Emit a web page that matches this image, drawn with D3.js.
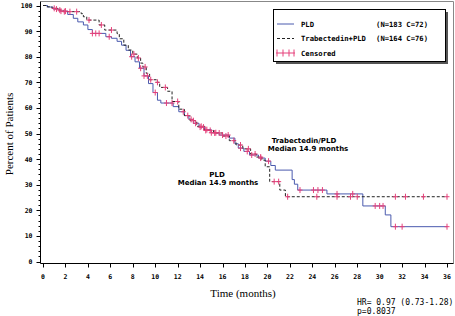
<!DOCTYPE html>
<html>
<head>
<meta charset="utf-8">
<script src="https://cdn.jsdelivr.net/npm/d3@7"></script>
<style>
  body { margin: 0; background: #fff; }
  svg { display: block; }
</style>
</head>
<body>
<div id="chart"></div>
<script>
// Kaplan-Meier curves: [month, percent] after each step
const pldSteps = [
  [0, 100], [0.4, 99.4], [0.9, 98.6], [1.5, 97.8], [2.2, 96.5], [2.7, 95], [3.1, 93.6], [3.6, 92.4],
  [4.0, 90.6], [4.4, 89.1], [5.6, 87.8], [6.1, 87.2], [6.6, 86], [7.0, 84.5], [7.4, 82.5],
  [7.8, 80], [8.2, 78], [8.6, 75.5], [9.0, 72.5], [9.4, 69.5], [9.8, 66], [10.2, 63],
  [10.5, 61.9], [11.6, 60.5], [12.1, 58.5], [12.6, 57], [13.0, 55.5], [13.4, 54], [13.9, 52.5],
  [14.4, 51.5], [15.0, 50.3], [15.7, 49.4], [16.6, 48.2], [17.1, 46], [17.4, 44.3], [17.9, 43],
  [18.4, 41.6], [19.2, 40.4], [19.8, 39.2], [20.3, 37.5], [20.7, 35.7], [22.2, 32], [22.4, 30.2],
  [22.7, 27.9], [25.3, 26.4], [28.5, 21.7], [30.5, 18.2], [31.0, 13.6], [36, 13.6]
];
const trabSteps = [
  [0, 100], [0.3, 99.5], [0.8, 98.9], [1.3, 98.2], [1.8, 97.6], [3.4, 96.8], [3.6, 95.6],
  [3.9, 94.3], [5.0, 92.4], [5.5, 90.4], [6.6, 89], [6.8, 87], [7.2, 84.5], [7.6, 82.6],
  [8.0, 81], [8.4, 79.5], [8.7, 77.5], [8.9, 76], [9.2, 73.5], [9.5, 71], [10.1, 70],
  [10.4, 68], [11.1, 66.5], [11.5, 62.5], [12.1, 59.5], [12.6, 57], [13.1, 55], [13.7, 52.8],
  [14.4, 51.2], [15.2, 50.2], [16.0, 49], [16.6, 47.2], [17.2, 45.5], [17.8, 44], [18.5, 42],
  [19.0, 40.8], [19.5, 39.6], [19.8, 37], [20.2, 31.2], [21.1, 27.9], [21.6, 25.3], [36, 25.3]
];
const pldCensor = [1.2, 1.6, 2.0, 4.4, 4.7, 5.0, 5.9, 7.9, 8.7, 9.0, 9.3, 10.0, 11.0, 11.5,
  12.5, 13.2, 13.6, 14.0, 14.3, 14.6, 15.0, 15.4, 16.0, 16.5, 17.6, 18.2, 18.6, 19.4, 20.1,
  22.9, 24.1, 24.5, 24.9, 26.2, 27.6, 29.6, 30.0, 30.3, 31.4, 32.0, 36];
const trabCensor = [1.0, 1.5, 1.9, 2.4, 3.0, 4.1, 5.2, 6.1, 8.1, 8.5, 9.1, 9.6, 10.2, 10.9,
  12.0, 12.9, 13.4, 14.1, 14.5, 14.9, 15.3, 15.7, 16.3, 17.0, 17.6, 18.3, 18.9, 19.4, 20.6,
  21.0, 21.8, 24.4, 26.2, 27.4, 28.0, 31.4, 32.3, 33.9, 36];
const xTicks = d3.range(0, 37, 2);
const yTicks = d3.range(0, 101, 10);
const legendRows = [
  { label: 'PLD', extra: '(N=183 C=72)' },
  { label: 'Trabectedin+PLD', extra: '(N=164 C=76)' },
  { label: 'Censored', extra: '' }
];

const width = 455, height = 316;
const blue = '#4a5aae', red = '#e5407a';

const svg = d3.select('#chart').append('svg')
  .attr('width', width).attr('height', height);

const x = d3.scaleLinear().domain([0, 36]).range([43, 447]);
const y = d3.scaleLinear().domain([0, 100]).range([261.5, 5.5]);
const frame = { left: 40.5, right: 453.5, top: 1.5, bottom: 263.5 };

// frame (top/right gray)
svg.append('path')
  .attr('d', `M${frame.left},${frame.top}H${frame.right}V${frame.bottom}`)
  .attr('fill', 'none').attr('stroke', '#888');

// axes
const tickFont = 'DejaVu Sans Mono, monospace';
const yAxis = svg.append('g').attr('transform', `translate(${frame.left},0)`);
yAxis.append('line').attr('y1', frame.top).attr('y2', frame.bottom).attr('stroke', '#000');
yAxis.selectAll('line.minor').data(d3.range(0, 101, 2)).join('line')
  .attr('class', 'minor')
  .attr('x1', d => d % 10 === 0 ? -4 : -2).attr('x2', 0)
  .attr('y1', d => Math.round(y(d)) + 0.5).attr('y2', d => Math.round(y(d)) + 0.5)
  .attr('stroke', '#000');
yAxis.selectAll('text').data(yTicks).join('text')
  .attr('x', -8).attr('y', d => y(d) + 2.5)
  .attr('text-anchor', 'end')
  .attr('font-family', tickFont).attr('font-weight', 'bold').attr('font-size', 6.5)
  .text(d => d);

const xAxis = svg.append('g').attr('transform', `translate(0,${frame.bottom})`);
xAxis.append('line').attr('x1', frame.left).attr('x2', frame.right).attr('stroke', '#000');
xAxis.selectAll('line.tick').data(xTicks).join('line')
  .attr('class', 'tick')
  .attr('x1', d => Math.round(x(d)) + 0.5).attr('x2', d => Math.round(x(d)) + 0.5)
  .attr('y1', 0).attr('y2', 4).attr('stroke', '#000');
xAxis.selectAll('text').data(xTicks).join('text')
  .attr('x', d => x(d)).attr('y', 15)
  .attr('text-anchor', 'middle')
  .attr('font-family', tickFont).attr('font-weight', 'bold').attr('font-size', 6.5)
  .text(d => d);

// axis titles
svg.append('text')
  .attr('transform', `translate(13,${134}) rotate(-90)`)
  .attr('text-anchor', 'middle')
  .attr('font-family', 'Liberation Serif, serif').attr('font-size', 11)
  .text('Percent of Patients');
svg.append('text')
  .attr('x', 243).attr('y', 297)
  .attr('text-anchor', 'middle')
  .attr('font-family', 'Liberation Serif, serif').attr('font-size', 11)
  .text('Time (months)');

// curves
const stepLine = d3.line().x(d => x(d[0])).y(d => y(d[1])).curve(d3.curveStepAfter);
svg.append('path').datum(pldSteps)
  .attr('d', stepLine).attr('fill', 'none').attr('stroke', blue).attr('stroke-width', 1);
svg.append('path').datum(trabSteps)
  .attr('d', stepLine).attr('fill', 'none').attr('stroke', '#222').attr('stroke-width', 1)
  .attr('stroke-dasharray', '3,2');

// survival value at time t
function survAt(steps, t) {
  let v = steps[0][1];
  for (const s of steps) { if (s[0] <= t) v = s[1]; }
  return v;
}
function drawCensor(times, steps) {
  svg.append('g').selectAll('path').data(times).join('path')
    .attr('d', t => {
      const cx = x(t), cy = y(survAt(steps, t));
      return `M${cx - 2.5},${cy}H${cx + 2.5}M${cx},${cy - 3}V${cy + 3}`;
    })
    .attr('stroke', red).attr('stroke-width', 1).attr('fill', 'none');
}
drawCensor(pldCensor, pldSteps);
drawCensor(trabCensor, trabSteps);

// annotations
const annFont = 'DejaVu Sans, sans-serif';
[[304, 143, 'Trabectedin/PLD'], [308, 150.5, 'Median 14.9 months'],
 [217, 177, 'PLD'], [218, 184.5, 'Median 14.9 months']].forEach(([ax, ay, t]) => {
  svg.append('text').attr('x', ax).attr('y', ay).attr('text-anchor', 'middle')
    .attr('font-family', annFont).attr('font-weight', 'bold').attr('font-size', 7)
    .text(t);
});

// legend
const lg = svg.append('g');
lg.append('rect').attr('x', 276).attr('y', 12).attr('width', 172).attr('height', 52)
  .attr('fill', '#555');
lg.append('rect').attr('x', 273.5).attr('y', 9.5).attr('width', 172).attr('height', 52)
  .attr('fill', '#fff').attr('stroke', '#000');
const rowY = [24, 38.5, 53];
const legFont = 'DejaVu Sans Mono, monospace';
legendRows.forEach((r, i) => {
  const g = lg.append('g').attr('transform', `translate(0,${rowY[i]})`);
  if (i === 0) {
    g.append('line').attr('x1', 277).attr('x2', 294).attr('stroke', blue);
  } else if (i === 1) {
    g.append('line').attr('x1', 277).attr('x2', 294).attr('stroke', '#222')
      .attr('stroke-dasharray', '3,2');
  } else {
    g.append('line').attr('x1', 276).attr('x2', 295).attr('stroke', red);
    [277, 283, 289, 294].forEach(cx => g.append('line')
      .attr('x1', cx).attr('x2', cx).attr('y1', -3.5).attr('y2', 3.5).attr('stroke', red));
  }
  g.append('text').attr('x', 301).attr('y', 2.5)
    .attr('font-family', legFont).attr('font-weight', 'bold').attr('font-size', 7.2)
    .text(r.label);
  if (r.extra) {
    g.append('text').attr('x', 428).attr('y', 2.5).attr('text-anchor', 'end')
      .attr('font-family', legFont).attr('font-weight', 'bold').attr('font-size', 7.2)
      .text(r.extra);
  }
});

// stats
[['HR= 0.97 (0.73-1.28)', 305], ['p=0.8037', 314]].forEach(([t, ty]) => {
  svg.append('text').attr('x', 357).attr('y', ty)
    .attr('font-family', 'DejaVu Sans Mono, monospace').attr('font-size', 8)
    .text(t);
});
</script>
</body>
</html>
